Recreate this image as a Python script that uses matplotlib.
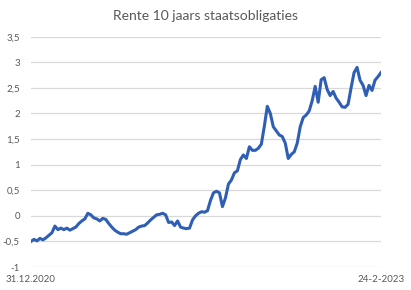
import matplotlib
matplotlib.use("Agg")
import matplotlib.pyplot as plt
from matplotlib.ticker import FuncFormatter

# 10-year government bond yield (roughly evenly spaced in time)
rente = [-0.50, -0.46, -0.49, -0.44, -0.47, -0.43, -0.38, -0.33, -0.20, -0.27,
         -0.24, -0.27, -0.24, -0.28, -0.25, -0.22, -0.15, -0.10, -0.06, 0.05,
         0.02, -0.04, -0.06, -0.10, -0.05, -0.07, -0.15, -0.22, -0.28, -0.32,
         -0.35, -0.35, -0.36, -0.33, -0.30, -0.27, -0.22, -0.20, -0.19, -0.14,
         -0.08, -0.03, 0.02, 0.03, 0.05, 0.02, -0.13, -0.12, -0.19, -0.10,
         -0.22, -0.24, -0.25, -0.24, -0.08, 0.00, 0.05, 0.08, 0.07, 0.10,
         0.30, 0.45, 0.48, 0.45, 0.18, 0.35, 0.62, 0.70, 0.84, 0.88,
         1.10, 1.19, 1.12, 1.35, 1.28, 1.28, 1.32, 1.40, 1.75, 2.14,
         2.00, 1.74, 1.66, 1.58, 1.55, 1.42, 1.12, 1.20, 1.25, 1.42,
         1.74, 1.92, 1.97, 2.05, 2.25, 2.53, 2.22, 2.66, 2.70, 2.47,
         2.35, 2.43, 2.30, 2.22, 2.13, 2.12, 2.18, 2.50, 2.80, 2.90,
         2.65, 2.55, 2.35, 2.55, 2.45, 2.65, 2.72, 2.80]
x_labels = ["31.12.2020", "24-2-2023"]
y_ticks = [-1, -0.5, 0, 0.5, 1, 1.5, 2, 2.5, 3, 3.5]

plt.rcParams["font.family"] = ["Lato", "DejaVu Sans"]
grey = "#595959"
fig = plt.figure(figsize=(4.11, 2.90), dpi=100)
ax = fig.add_axes([0.0754, 0.0793, 0.927 - 0.0754, 0.8734 - 0.0793])

x = list(range(len(rente)))
ax.plot(x, rente, color="#2F5FB5", linewidth=2.2, solid_joinstyle="round")

ax.set_xlim(0, len(rente) - 1)
ax.set_ylim(-1, 3.5)
ax.set_yticks(y_ticks)
ax.yaxis.set_major_formatter(FuncFormatter(lambda v, p: ("%g" % v).replace(".", ",")))
ax.set_xticks([0, len(rente) - 1])
ax.set_xticklabels(x_labels)

ax.grid(axis="y", color="#D9D9D9", linewidth=0.9)
ax.set_axisbelow(True)
for s in ax.spines.values():
    s.set_visible(False)
ax.tick_params(length=0, colors=grey, labelsize=7)
ax.tick_params(axis="y", pad=8)
ax.tick_params(axis="x", pad=6)

fig.text(0.5, 0.945, "Rente 10 jaars staatsobligaties", ha="center", va="center",
         fontsize=10, color=grey)

fig.savefig("out.png", dpi=100)
